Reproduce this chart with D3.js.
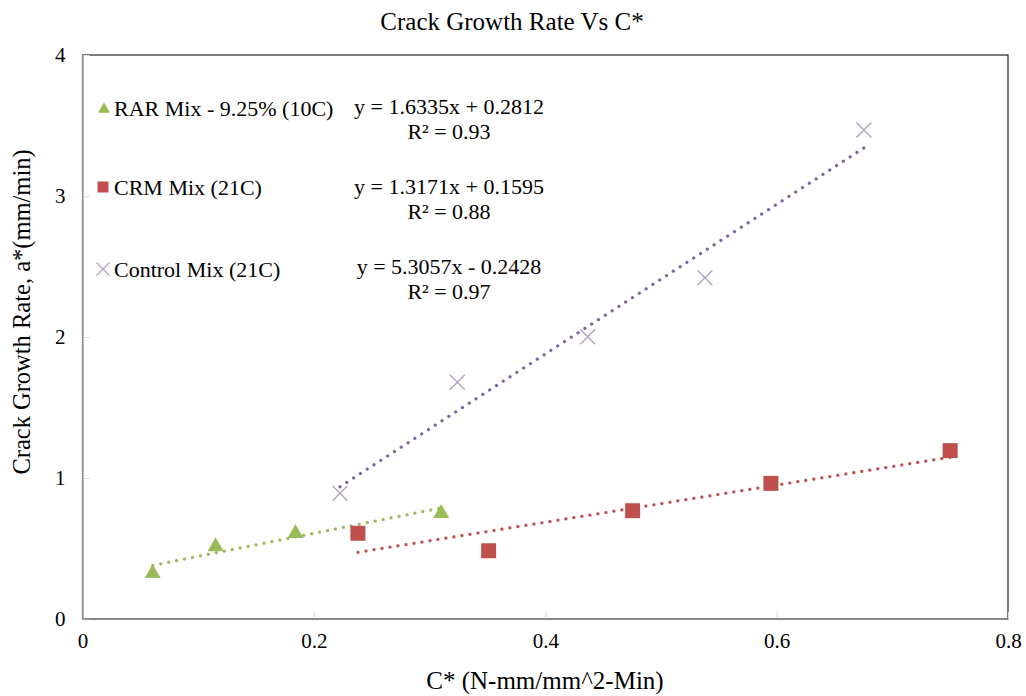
<!DOCTYPE html>
<html>
<head>
<meta charset="utf-8">
<script src="https://cdn.jsdelivr.net/npm/d3@7/dist/d3.min.js"></script>
<style>
  html, body { margin: 0; padding: 0; background: #fff; }
  svg { display: block; font-family: "Liberation Serif", "Times New Roman", serif; }
</style>
</head>
<body>
<svg id="chart" width="1026" height="696"></svg>
<script>
// Series data: C* (N-mm/mm^2-Min) vs crack growth rate a* (mm/min)
const rarX = [0.0606, 0.115, 0.184, 0.310];
const rarY = [0.335, 0.525, 0.619, 0.761];
const crmX = [0.238, 0.351, 0.4755, 0.595, 0.750];
const crmY = [0.608, 0.484, 0.768, 0.962, 1.194];
const ctlX = [0.2225, 0.3239, 0.4366, 0.538, 0.6754];
const ctlY = [0.891, 1.679, 2.002, 2.42, 3.468];

// Linear trendline fits (slope, intercept) and R² labels
const rarFit = [1.6335, 0.2812];
const crmFit = [1.3171, 0.1595];
const ctlFit = [5.3057, -0.2428];
const fitLabels = ["y = 1.6335x + 0.2812", "y = 1.3171x + 0.1595", "y = 5.3057x - 0.2428"];
const r2Labels = ["R² = 0.93", "R² = 0.88", "R² = 0.97"];
const seriesNames = ["RAR Mix - 9.25% (10C)", "CRM Mix (21C)", "Control Mix (21C)"];

const xTicks = [0, 0.2, 0.4, 0.6, 0.8];
const yTicks = [0, 1, 2, 3, 4];

(function draw() {
  const svg = d3.select("#chart");
  const plotL = 82.6, plotR = 1008, plotT = 55, plotB = 619;
  const x = d3.scaleLinear().domain([0, 0.8]).range([plotL, plotR]);
  const y = d3.scaleLinear().domain([0, 4]).range([plotB, plotT]);

  const green = "#9BBB59", red = "#C0504D", purple = "#8064A2", lavender = "#B3A2C7";
  const fs = 22;

  // Title
  svg.append("text").attr("x", 512).attr("y", 30).attr("text-anchor", "middle")
    .attr("font-size", 25).attr("fill", "#000").text("Crack Growth Rate Vs C*");

  // Plot area frame
  svg.append("rect").attr("x", plotL).attr("y", plotT).attr("width", plotR - plotL).attr("height", plotB - plotT)
    .attr("fill", "none").attr("stroke", "#222").attr("stroke-width", 1.2);

  // Axes (inside tick marks, no domain path)
  const xAxis = d3.axisBottom(x).tickValues(xTicks).tickSize(-7).tickPadding(14)
    .tickFormat(d => d === 0 ? "0" : d3.format(".1f")(d));
  const gx = svg.append("g").attr("transform", `translate(0,${plotB})`).call(xAxis);
  gx.select(".domain").remove();
  gx.selectAll(".tick line").attr("stroke", "#d9d9d9");
  gx.selectAll(".tick text").attr("font-size", 21).attr("fill", "#000")
    .attr("font-family", "Liberation Serif, serif");

  const yAxis = d3.axisLeft(y).tickValues(yTicks).tickSize(-7).tickPadding(17).tickFormat(d3.format("d"));
  const gy = svg.append("g").attr("transform", `translate(${plotL},0)`).call(yAxis);
  gy.select(".domain").remove();
  gy.selectAll(".tick line").attr("stroke", "#d9d9d9");
  gy.selectAll(".tick text").attr("font-size", 21).attr("fill", "#000")
    .attr("font-family", "Liberation Serif, serif");

  // Left and bottom axis lines
  svg.append("line").attr("x1", plotL).attr("x2", plotL).attr("y1", plotT).attr("y2", plotB)
    .attr("stroke", "#8c8c8c").attr("stroke-width", 1.5);
  svg.append("line").attr("x1", plotL).attr("x2", plotR).attr("y1", plotB).attr("y2", plotB)
    .attr("stroke", "#8c8c8c").attr("stroke-width", 1.5);

  // Axis titles
  svg.append("text").attr("x", 545).attr("y", 689).attr("text-anchor", "middle")
    .attr("font-size", 25).text("C* (N-mm/mm^2-Min)");
  svg.append("text").attr("transform", "translate(30,312) rotate(-90)").attr("text-anchor", "middle")
    .attr("font-size", 24.5).text("Crack Growth Rate, a*(mm/min)");

  // Dotted trendlines spanning each series' x-range
  function trend(xs, fit, color) {
    const x0 = d3.min(xs), x1 = d3.max(xs);
    svg.append("line")
      .attr("x1", x(x0)).attr("y1", y(fit[0] * x0 + fit[1]))
      .attr("x2", x(x1)).attr("y2", y(fit[0] * x1 + fit[1]))
      .attr("stroke", color).attr("stroke-width", 3.2)
      .attr("stroke-linecap", "round").attr("stroke-dasharray", "0.1 8");
  }
  trend(rarX, rarFit, green);
  trend(crmX, crmFit, red);
  trend(ctlX, ctlFit, purple);

  // Marker shapes
  function drawTriangle(g, cx, cy, s, color) {
    const h = s * Math.sqrt(3) / 2;
    g.append("path").attr("d", `M${cx},${cy - h * 0.55}L${cx + s / 2},${cy + h * 0.45}L${cx - s / 2},${cy + h * 0.45}Z`)
      .attr("fill", color);
  }
  function drawSquare(g, cx, cy, s, color) {
    g.append("rect").attr("x", cx - s / 2).attr("y", cy - s / 2).attr("width", s).attr("height", s).attr("fill", color);
  }
  function drawCross(g, cx, cy, s, color) {
    const h = s / 2;
    g.append("path").attr("d", `M${cx - h},${cy - h}L${cx + h},${cy + h}M${cx - h},${cy + h}L${cx + h},${cy - h}`)
      .attr("stroke", color).attr("stroke-width", 1.4).attr("fill", "none");
  }

  const marks = svg.append("g");
  rarX.forEach((v, i) => drawTriangle(marks, x(v), y(rarY[i]), 16, green));
  crmX.forEach((v, i) => drawSquare(marks, x(v), y(crmY[i]), 15, red));
  ctlX.forEach((v, i) => drawCross(marks, x(v), y(ctlY[i]), 15, lavender));

  // Legend
  const legend = svg.append("g");
  const legendRows = [108, 187, 269];
  drawTriangle(legend, 104, legendRows[0], 12, green);
  drawSquare(legend, 103, legendRows[1], 11, red);
  drawCross(legend, 103, legendRows[2], 13, lavender);
  seriesNames.forEach((name, i) => {
    legend.append("text").attr("x", 114).attr("y", legendRows[i]).attr("dy", "0.35em")
      .attr("font-size", fs).text(name);
  });

  // Trendline equations
  const eqY = [106, 186, 266];
  fitLabels.forEach((t, i) => {
    svg.append("text").attr("x", 449).attr("y", eqY[i]).attr("dy", "0.35em").attr("text-anchor", "middle")
      .attr("font-size", fs).text(t);
    svg.append("text").attr("x", 449).attr("y", eqY[i] + 25).attr("dy", "0.35em").attr("text-anchor", "middle")
      .attr("font-size", fs).text(r2Labels[i]);
  });
})();
</script>
</body>
</html>
